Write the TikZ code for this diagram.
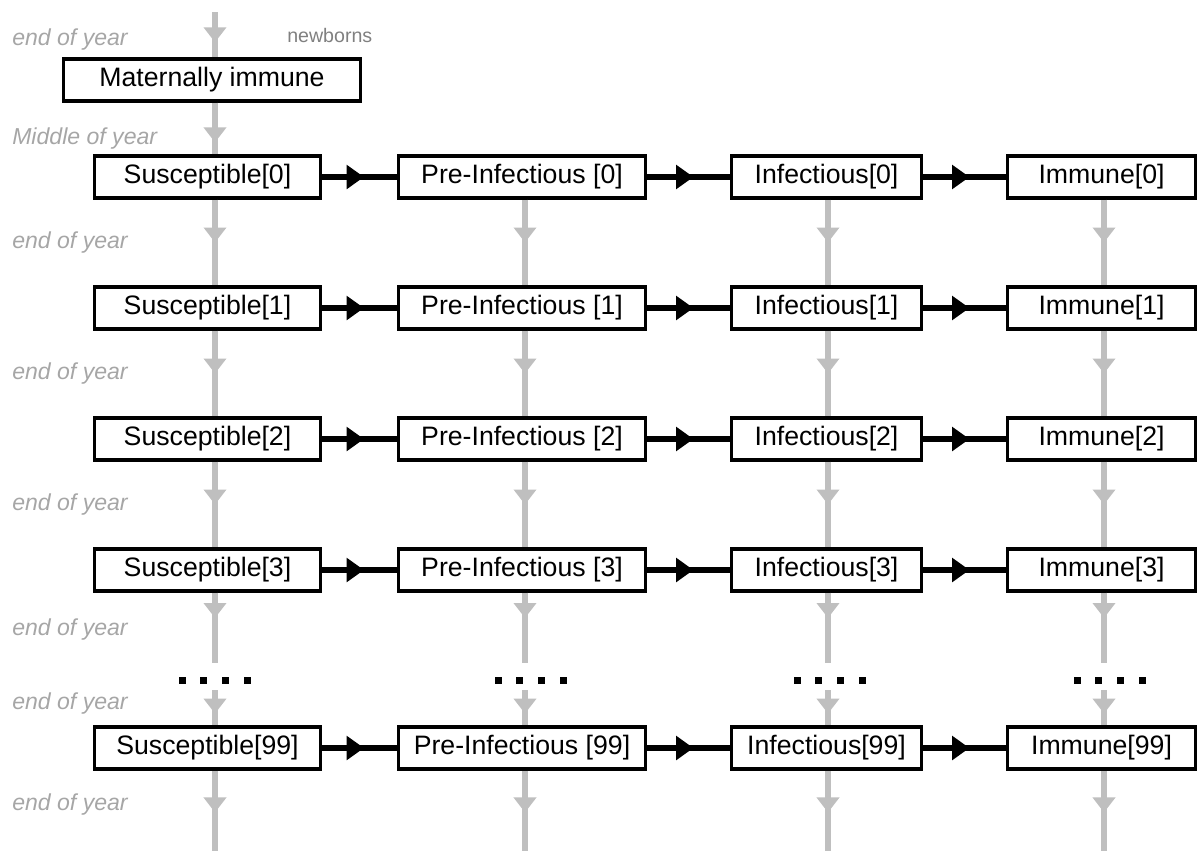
\documentclass[tikz,border=0pt]{standalone}
\usepackage{fontspec}
\setmainfont{Liberation Sans}
\usetikzlibrary{arrows.meta,decorations.markings}
\definecolor{linegrey}{HTML}{BFBFBF}
\definecolor{labelgrey}{HTML}{A6A6A6}
\definecolor{newgrey}{HTML}{808080}
\begin{document}
\begin{tikzpicture}[x=0.75pt,y=-0.75pt,
  box/.style={draw=black,line width=2.6pt,fill=white,inner sep=0pt,
    minimum height=31.5pt,font=\fontsize{20}{24}\selectfont},
  wS/.style={minimum width=169.5pt},
  wP/.style={minimum width=185.25pt},
  wI/.style={minimum width=142.5pt},
  wM/.style={minimum width=141pt},
  wMat/.style={minimum width=222.75pt},
  garrow/.style={color=linegrey,line width=4.8pt,postaction={decorate},
    decoration={markings,mark=at position #1 with {\arrow{Triangle[length=11.25pt,width=16.5pt]}}}},
  barrow/.style={color=black,line width=4.2pt,postaction={decorate},
    decoration={markings,mark=at position 0.56 with {\arrow{Triangle[length=13pt,width=17.5pt]}}}},
  yearlbl/.style={anchor=west,inner sep=0pt,text=labelgrey,
    font=\fontsize{17.3}{20}\selectfont\itshape},
  dotsq/.style={fill=black}
]
\useasboundingbox (0,0) rectangle (1198,851);

% column line positions
\coordinate (c1) at (215,0);
\coordinate (c2) at (525,0);
\coordinate (c3) at (828,0);
\coordinate (c4) at (1104,0);

% labels
\node[yearlbl] (ey0) at (12,40) {end of year};
\node[yearlbl] (my) at (12,139) {Middle of year};
\node[yearlbl] (ey1) at (12,243) {end of year};
\node[yearlbl] (ey2) at (12,374) {end of year};
\node[yearlbl] (ey3) at (12,505) {end of year};
\node[yearlbl] (ey4) at (12,630) {end of year};
\node[yearlbl] (ey5) at (12,704) {end of year};
\node[yearlbl] (ey6) at (12,805) {end of year};
\node[anchor=west,inner sep=0pt,text=newgrey,font=\fontsize{14.7}{17}\selectfont] (nb) at (287,35) {newborns};

% maternally immune
\node[box,wMat] (mat) at (212,80) {Maternally immune};
\coordinate (topstart) at (215,12);

% rows 0-3
\foreach \r/\y in {0/177,1/308,2/439,3/570} {
  \node[box,wS] (s\r) at (207.5,\y) {Susceptible[\r]};
  \node[box,wP] (p\r) at (522,\y) {Pre-Infectious [\r]};
  \node[box,wI] (i\r) at (826.5,\y) {Infectious[\r]};
  \node[box,wM] (m\r) at (1101.5,\y) {Immune[\r]};
}
% row 99
\node[box,wS] (s99) at (207.5,748) {Susceptible[99]};
\node[box,wP] (p99) at (522,748) {Pre-Infectious [99]};
\node[box,wI] (i99) at (826.5,748) {Infectious[99]};
\node[box,wM] (m99) at (1101.5,748) {Immune[99]};

% horizontal arrows
\foreach \r in {0,1,2,3,99} {
  \draw[barrow] (s\r) -- (p\r);
  \draw[barrow] (p\r) -- (i\r);
  \draw[barrow] (i\r) -- (m\r);
}

% grey vertical arrows
\draw[garrow=0.67] (topstart) -- (mat.north -| c1);
\draw[garrow=0.77] (mat.south -| c1) -- (s0.north -| c1);

\coordinate (dtop) at (0,663);
\coordinate (dbot) at (0,690);
\coordinate (bend) at (0,851);

\foreach \col/\c in {s/c1,p/c2,i/c3,m/c4} {
  \draw[garrow=0.5] (\col0.south -| \c) -- (\col1.north -| \c);
  \draw[garrow=0.5] (\col1.south -| \c) -- (\col2.north -| \c);
  \draw[garrow=0.5] (\col2.south -| \c) -- (\col3.north -| \c);
  \draw[garrow=0.36] (\col3.south -| \c) -- (dtop -| \c);
  \draw[garrow=0.67] (dbot -| \c) -- (\col99.north -| \c);
  \draw[garrow=0.52] (\col99.south -| \c) -- (bend -| \c);
}

% dots
\foreach \x in {182,498,797,1077} {
  \foreach \d in {0,21.7,43.3,65} {
    \fill[dotsq] (\x+\d-3.5,676.5) rectangle (\x+\d+3.5,683.5);
  }
}
\end{tikzpicture}
\end{document}
